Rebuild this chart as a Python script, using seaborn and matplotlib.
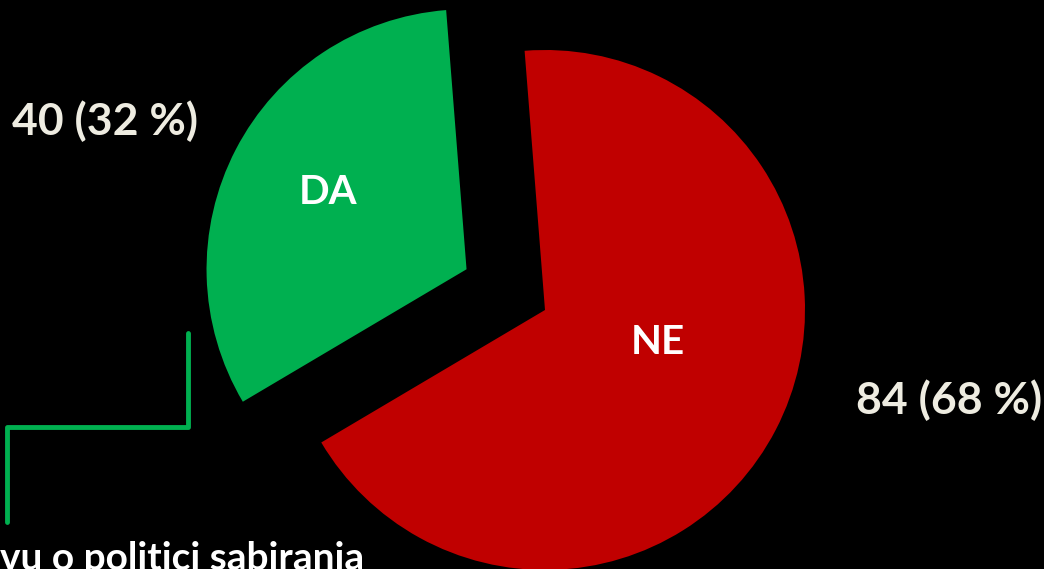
import matplotlib
matplotlib.use("Agg")
import matplotlib.pyplot as plt
import seaborn as sns

# Data
answers = ["DA", "NE"]
counts = [40, 84]
shares = [32, 68]
colors = ["#00B050", "#C00000"]

sns.set_theme(style="white")
plt.rcParams['font.family'] = ['Lato', 'DejaVu Sans']

W, H = 1044, 569
fig = plt.figure(figsize=(W / 100, H / 100), dpi=100, facecolor="black")
ax = fig.add_axes([0, 0, 1, 1], facecolor="black")

# pie, DA pulled out (explode is in data units here)
radius = 260
ax.pie(counts, colors=colors, startangle=94.5, counterclock=True,
       explode=[0.34 * radius, 0], center=(545, H - 310), radius=radius,
       wedgeprops=dict(linewidth=0), frame=True)
ax.set_xlim(0, W)
ax.set_ylim(0, H)
ax.axis("off")

cream = "#EEECE1"
ax.text(328, H - 192, answers[0], color="white", fontsize=29, fontweight="bold",
        ha="center", va="center")
ax.text(658, H - 343, answers[1], color="white", fontsize=29, fontweight="bold",
        ha="center", va="center")
ax.text(12, H - 121, f"{counts[0]} ({shares[0]} %)", color=cream, fontsize=32,
        fontweight="bold", ha="left", va="center")
ax.text(1042, H - 400, f"{counts[1]} ({shares[1]} %)", color=cream, fontsize=32,
        fontweight="bold", ha="right", va="center")

# connector line
ax.plot([188, 188, 7, 7], [H - 333, H - 427, H - 427, H - 522],
        color="#00B050", lw=3.5, solid_joinstyle="round")

# caption text, cut by the bottom edge as in the original slide
ax.text(0, H - 570, "vu o politici sabiranja", color="white", fontsize=28,
        fontweight="bold", ha="left", va="baseline")

fig.savefig("out.png", dpi=100, facecolor="black")
